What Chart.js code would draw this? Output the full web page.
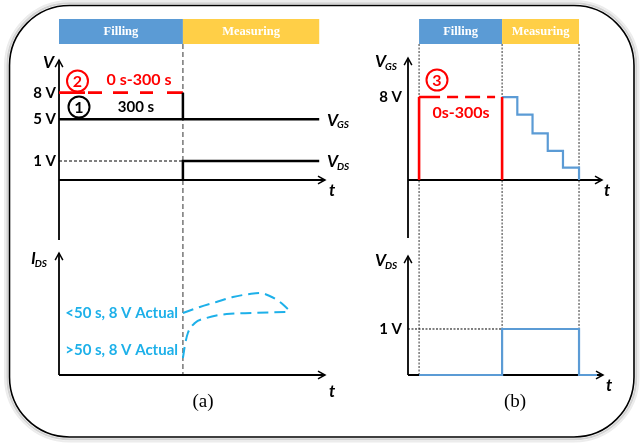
<!DOCTYPE html>
<html><head><meta charset="utf-8">
<script src="https://cdn.jsdelivr.net/npm/chart.js@4/dist/chart.umd.min.js"></script>
<style>
html,body{margin:0;padding:0;background:#fff;width:641px;height:446px;overflow:hidden}
canvas{position:absolute;left:0;top:0}
</style></head><body>
<canvas id="a1" width="641" height="446"></canvas>
<canvas id="a2" width="641" height="446"></canvas>
<canvas id="b1" width="641" height="446"></canvas>
<canvas id="b2" width="641" height="446"></canvas>
<script>
// ---------------- DATA ----------------
const phaseNames = ['Filling', 'Measuring'];
// Panel (a): time (s) and voltage (V)
const aPhaseT = [0, 300, 630];               // filling start, filling end, measuring end
const aVgsFillT = [0, 300];   const aVgsFillV = [8, 8];      // ② 0 s-300 s at 8 V (dashed red)
const aVgsBaseT = [0, 630];   const aVgsBaseV = [5, 5];      // ① 300 s, VGS at 5 V
const aVgsEdgeT = [300, 300]; const aVgsEdgeV = [8, 5];
const aVdsT = [300, 300, 630]; const aVdsV = [0, 1, 1];
const aVdsRefT = [0, 300];    const aVdsRefV = [1, 1];
const aVTickV = [8, 5, 1];    const aVTickLabels = ['8 V', '5 V', '1 V'];
// schematic (not to scale) drawn height for each voltage level of panel (a)
const aLevelOf = {0: 0, 1: 1, 5: 3.2, 8: 4.6};
// Panel (a) I_DS (arbitrary units)
const aIdsT1 = [300, 341, 381, 421, 462, 486, 510, 535, 554];
const aIdsLt50 = [62, 68, 73, 78, 81, 82, 79, 73, 66];
const aIdsT2 = [300, 305, 312, 329, 357, 406, 469, 554];
const aIdsGt50 = [17, 30, 42, 52, 57, 61, 62, 63];
const aIdsLabels = ['<50 s, 8 V Actual', '>50 s, 8 V Actual'];
const aIdsLabelAt = [62, 25];
// Panel (b)
const bPhaseT = [0, 300, 578];
const bFillT = [0, 0, 300, 300]; const bFillV = [0, 8, 8, 0];
const bStepT = [300, 355, 410, 465, 520, 578];
const bStepV = [8, 6.3, 4.5, 2.8, 1.2, 0];
const bVdsT = [0, 300, 578, 643]; const bVdsV = [0, 1, 0, 0];
const bVdsRefT = [-40, 300]; const bVdsRefV = [1, 1];

// ---------------- HELPERS ----------------
const SANS = "Lato, 'Open Sans', 'Liberation Sans', sans-serif";
const SERIF = "'Liberation Serif', 'DejaVu Serif', serif";
const RED = '#FF0000', BLUE = '#5B9BD5', YEL = '#FFCF47', CYAN = '#1DB0E9';
const pts = (xs, ys, f) => xs.map((x, i) => ({x, y: f ? f(ys[i]) : ys[i]}));
const lvlA = v => aLevelOf[v];

function txt(ctx, s, x, y, o = {}) {
  ctx.save();
  ctx.font = `${o.italic ? 'italic ' : ''}${o.bold === false ? '' : 'bold '}${o.size || 15}px ${o.family || SANS}`;
  ctx.fillStyle = o.color || '#000'; ctx.textAlign = o.align || 'left'; ctx.textBaseline = 'middle';
  ctx.fillText(s, x, y); ctx.restore();
}
function vsub(ctx, main, s, x, y, size = 17) {
  ctx.save(); ctx.fillStyle = '#000'; ctx.textBaseline = 'middle'; ctx.textAlign = 'left';
  ctx.font = `italic bold ${size}px ${SANS}`; ctx.fillText(main, x, y);
  const w = ctx.measureText(main).width;
  ctx.font = `italic bold ${Math.round(size * 0.6)}px ${SANS}`; ctx.fillText(s, x + w - 1, y + 5);
  ctx.restore();
}
function arrow(ctx, x1, y1, x2, y2, lw = 1.8) {
  ctx.save(); ctx.strokeStyle = '#000'; ctx.lineWidth = lw; ctx.setLineDash([]);
  ctx.beginPath(); ctx.moveTo(x1, y1); ctx.lineTo(x2, y2); ctx.stroke();
  const a = Math.atan2(y2 - y1, x2 - x1), L = 8, s = 0.5;
  ctx.lineWidth = 1.5;
  ctx.beginPath(); ctx.moveTo(x2 - L * Math.cos(a - s), y2 - L * Math.sin(a - s)); ctx.lineTo(x2, y2);
  ctx.lineTo(x2 - L * Math.cos(a + s), y2 - L * Math.sin(a + s)); ctx.stroke(); ctx.restore();
}
function vline(ctx, x, y1, y2, color, lw, dash) {
  ctx.save(); ctx.strokeStyle = color; ctx.lineWidth = lw; ctx.setLineDash(dash);
  ctx.beginPath(); ctx.moveTo(x, y1); ctx.lineTo(x, y2); ctx.stroke(); ctx.restore();
}
function circled(ctx, n, x, y, color) {
  ctx.save(); ctx.strokeStyle = color; ctx.lineWidth = 2;
  ctx.beginPath(); ctx.arc(x, y, 10.5, 0, Math.PI * 2); ctx.stroke(); ctx.restore();
  txt(ctx, n, x, y + 1, {color, align: 'center', size: 16});
}
function rrect(ctx, x, y, w, h, r) {
  ctx.beginPath(); ctx.moveTo(x + r, y);
  ctx.arcTo(x + w, y, x + w, y + h, r); ctx.arcTo(x + w, y + h, x, y + h, r);
  ctx.arcTo(x, y + h, x, y, r); ctx.arcTo(x, y, x + w, y, r); ctx.closePath();
}
function phaseBars(ctx, xs, t) {
  const cols = [BLUE, YEL];
  for (let i = 0; i < 2; i++) {
    const x0 = xs.getPixelForValue(t[i]), x1 = xs.getPixelForValue(t[i + 1]);
    ctx.fillStyle = cols[i]; ctx.fillRect(x0, 19, x1 - x0, 25);
    txt(ctx, phaseNames[i], (x0 + x1) / 2, 32, {color: '#fff', align: 'center', size: 12.5, family: SERIF});
  }
}

function mk(id, area, xr, yr, datasets, hooks) {
  return new Chart(document.getElementById(id), {
    type: 'line',
    data: {datasets: datasets.map(d => Object.assign({pointRadius: 0, tension: 0, clip: false, fill: false, borderCapStyle: 'butt'}, d))},
    options: {
      responsive: false, animation: false, events: [],
      layout: {padding: {left: area[0], top: area[1], right: 641 - area[2], bottom: 446 - area[3]}},
      plugins: {legend: {display: false}, tooltip: {enabled: false}},
      scales: {x: {type: 'linear', min: xr[0], max: xr[1], display: false},
               y: {type: 'linear', min: yr[0], max: yr[1], display: false}}
    },
    plugins: [Object.assign({id: 'deco_' + id}, hooks)]
  });
}

// ---------------- PANEL (a) top ----------------
mk('a1', [59, 60, 325, 180], [0, 644], [0, 6.32], [
  {data: pts(aVdsRefT, aVdsRefV, lvlA), borderColor: '#000', borderWidth: 1, borderDash: [3, 2]},
  {data: pts(aVgsBaseT, aVgsBaseV, lvlA), borderColor: '#000', borderWidth: 2.5},
  {data: pts(aVgsEdgeT, aVgsEdgeV, lvlA), borderColor: '#000', borderWidth: 2.5},
  {data: pts(aVdsT, aVdsV, lvlA), borderColor: '#000', borderWidth: 2.5},
  {data: pts(aVgsFillT, aVgsFillV, lvlA), borderColor: RED, borderWidth: 2.6, borderDash: [26, 3, 14, 11, 15, 12, 13, 14, 16, 2]}
], {
  beforeDraw(c) {
    const ctx = c.ctx;
    ctx.save();
    ctx.strokeStyle = '#ececec'; ctx.lineWidth = 2; rrect(ctx, 5, 1, 633.5, 440.5, 64.5); ctx.stroke();
    ctx.strokeStyle = '#d2d2d2'; ctx.lineWidth = 2; rrect(ctx, 7.3, 3.3, 629, 436, 62); ctx.stroke();
    ctx.strokeStyle = '#000'; ctx.lineWidth = 1.6; rrect(ctx, 9.5, 5.5, 624.5, 431.5, 60); ctx.stroke();
    ctx.restore();
  },
  beforeDatasetsDraw(c) {
    const ctx = c.ctx, xs = c.scales.x, ys = c.scales.y, a = c.chartArea;
    phaseBars(ctx, xs, aPhaseT);
    vline(ctx, xs.getPixelForValue(aPhaseT[1]), 44, 375, '#555', 1.2, [5, 3]);
    arrow(ctx, a.left, 240, a.left, a.top);
    arrow(ctx, a.left, a.bottom, a.right, a.bottom);
    txt(ctx, 'V', 43, 63, {italic: true, size: 17});
    aVTickV.forEach((v, i) => txt(ctx, aVTickLabels[i], 56, ys.getPixelForValue(lvlA(v)), {align: 'right', size: 15}));
    vsub(ctx, 'V', 'GS', 327, ys.getPixelForValue(lvlA(5)) + 1);
    vsub(ctx, 'V', 'DS', 327, ys.getPixelForValue(lvlA(1)) + 1);
    txt(ctx, 't', 329, 191, {italic: true, size: 17});
  },
  afterDraw(c) {
    const ctx = c.ctx;
    circled(ctx, '2', 77.5, 81, RED);
    txt(ctx, '0 s-300 s', 139, 80, {color: RED, align: 'center', size: 16});
    circled(ctx, '1', 79, 107, '#000');
    txt(ctx, '300 s', 136, 107, {align: 'center', size: 15});
  }
});

// ---------------- PANEL (a) bottom ----------------
mk('a2', [59, 255, 325, 375], [0, 644], [0, 120], [
  {data: pts(aIdsT1, aIdsLt50), borderColor: CYAN, borderWidth: 2, borderDash: [11, 6], cubicInterpolationMode: 'monotone'},
  {data: pts(aIdsT2, aIdsGt50), borderColor: CYAN, borderWidth: 2, borderDash: [11, 6], cubicInterpolationMode: 'monotone'}
], {
  beforeDatasetsDraw(c) {
    const ctx = c.ctx, ys = c.scales.y, a = c.chartArea;
    arrow(ctx, a.left, a.bottom, a.left, 253);
    arrow(ctx, a.left, a.bottom, a.right, a.bottom);
    vsub(ctx, 'I', 'DS', 31, 259);
    txt(ctx, 't', 329, 392, {italic: true, size: 17});
    aIdsLabels.forEach((s, i) => txt(ctx, s, 178, ys.getPixelForValue(aIdsLabelAt[i]), {align: 'right', size: 15, color: CYAN}));
    txt(ctx, '(a)', 203, 402, {align: 'center', size: 19, bold: false, family: SERIF});
  }
});

// ---------------- PANEL (b) top ----------------
mk('b1', [408, 60, 602, 180], [-40, 661], [0, 11.57], [
  {data: pts(bFillT, bFillV), borderColor: RED, borderWidth: 2.6,
   segment: {borderDash: s => s.p0DataIndex === 1 ? [21, 7, 11, 7, 15, 7, 8, 7] : undefined}},
  {data: pts(bStepT, bStepV), borderColor: BLUE, borderWidth: 2.2, stepped: 'before'}
], {
  beforeDatasetsDraw(c) {
    const ctx = c.ctx, xs = c.scales.x, ys = c.scales.y, a = c.chartArea;
    phaseBars(ctx, xs, bPhaseT);
    bPhaseT.forEach(t => vline(ctx, xs.getPixelForValue(t), 44, 375, '#333', 1, [2, 1.5]));
    arrow(ctx, a.left, 238, a.left, 58);
    arrow(ctx, a.left, a.bottom, a.right, a.bottom);
    vsub(ctx, 'V', 'GS', 375, 62);
    txt(ctx, '8 V', 402, ys.getPixelForValue(8), {align: 'right', size: 15});
    txt(ctx, 't', 604, 191, {italic: true, size: 17});
  },
  afterDraw(c) {
    const ctx = c.ctx;
    circled(ctx, '3', 437, 80, RED);
    txt(ctx, '0s-300s', 461, 113, {color: RED, align: 'center', size: 16});
  }
});

// ---------------- PANEL (b) bottom ----------------
mk('b2', [408, 258, 602, 375], [-40, 661], [0, 2.543], [
  {data: pts(bVdsRefT, bVdsRefV), borderColor: '#000', borderWidth: 1, borderDash: [2, 1.5]},
  {data: pts(bVdsT, bVdsV), borderColor: BLUE, borderWidth: 2.2, stepped: 'before'}
], {
  beforeDatasetsDraw(c) {
    const ctx = c.ctx, ys = c.scales.y, a = c.chartArea;
    arrow(ctx, a.left, a.bottom, a.left, 256);
    arrow(ctx, a.left, a.bottom, a.right + 1, a.bottom);
    vsub(ctx, 'V', 'DS', 375, 261);
    txt(ctx, '1 V', 402, ys.getPixelForValue(1), {align: 'right', size: 15});
    txt(ctx, 't', 606, 386, {italic: true, size: 17});
    txt(ctx, '(b)', 515, 402, {align: 'center', size: 19, bold: false, family: SERIF});
  }
});
</script>
</body></html>
